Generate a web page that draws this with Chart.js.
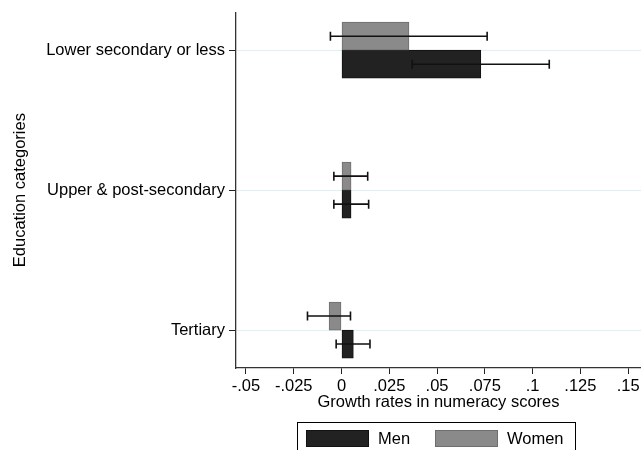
<!DOCTYPE html>
<html>
<head>
<meta charset="utf-8">
<script src="https://cdn.jsdelivr.net/npm/chart.js@4.4.1/dist/chart.umd.min.js"></script>
<style>
  html, body { margin: 0; padding: 0; background: #ffffff; overflow: hidden; }
  #wrap { width: 641px; height: 450px; }
</style>
</head>
<body>
<div id="wrap"><canvas id="c" width="641" height="450"></canvas></div>
<script>
// ---- data ----
const categories = ["Lower secondary or less", "Upper & post-secondary", "Tertiary"];
const seriesNames = ["Men", "Women"];
const menValues   = [0.0729, 0.0050, 0.0062];
const menLow      = [0.0370, -0.0040, -0.0028];
const menHigh     = [0.1087, 0.0142, 0.0149];
const womenValues = [0.0353, 0.0050, -0.0065];
const womenLow    = [-0.0058, -0.0040, -0.0178];
const womenHigh   = [0.0762, 0.0137, 0.0047];
const xTickValues = [-0.05, -0.025, 0, 0.025, 0.05, 0.075, 0.1, 0.125, 0.15];
const xTickLabels = ["-.05", "-.025", "0", ".025", ".05", ".075", ".1", ".125", ".15"];
const xTitle = "Growth rates in numeracy scores";
const yTitle = "Education categories";

// ---- styles ----
const FONT = "'Liberation Sans', Arial, sans-serif";
const FS = 16.5;
const MEN_FILL = "#222222", MEN_BORDER = "#111111";
const WOMEN_FILL = "#8a8a8a", WOMEN_BORDER = "#6e6e6e";

const toPoints = (vals) => vals.map((v, i) => ({ x: v, y: i }));

const errorBars = {
  id: "errorBars",
  afterDatasetsDraw(chart) {
    const ctx = chart.ctx;
    const xs = chart.scales.x;
    ctx.save();
    ctx.strokeStyle = "#111111";
    ctx.lineWidth = 1.6;
    chart.data.datasets.forEach((ds, di) => {
      const meta = chart.getDatasetMeta(di);
      meta.data.forEach((bar, i) => {
        const y = bar.y;
        const x1 = xs.getPixelForValue(ds.errLow[i]);
        const x2 = xs.getPixelForValue(ds.errHigh[i]);
        ctx.beginPath();
        ctx.moveTo(x1, y); ctx.lineTo(x2, y);
        ctx.moveTo(x1, y - 4.5); ctx.lineTo(x1, y + 4.5);
        ctx.moveTo(x2, y - 4.5); ctx.lineTo(x2, y + 4.5);
        ctx.stroke();
      });
    });
    ctx.restore();
  }
};

const boxLegend = {
  id: "boxLegend",
  afterDraw(chart) {
    const ctx = chart.ctx;
    ctx.save();
    ctx.strokeStyle = "#000000";
    ctx.lineWidth = 1;
    ctx.strokeRect(297.5, 422.5, 278, 34);
    // legend order: Men, Women
    const order = [1, 0];
    const swX = [306, 435];
    order.forEach((di, k) => {
      const ds = chart.data.datasets[di];
      ctx.fillStyle = ds.backgroundColor;
      ctx.fillRect(swX[k], 430, 63, 17);
      ctx.strokeStyle = ds.borderColor;
      ctx.strokeRect(swX[k] + 0.5, 430.5, 62, 16);
      ctx.fillStyle = "#000000";
      ctx.font = FS + "px " + FONT;
      ctx.textBaseline = "middle";
      ctx.textAlign = "left";
      ctx.fillText(ds.label, swX[k] + 72, 439);
    });
    ctx.restore();
  }
};

new Chart(document.getElementById("c"), {
  type: "bar",
  data: {
    datasets: [
      {
        label: seriesNames[1],
        data: toPoints(womenValues),
        errLow: womenLow, errHigh: womenHigh,
        backgroundColor: WOMEN_FILL, borderColor: WOMEN_BORDER,
        borderWidth: 1, borderSkipped: false, barThickness: 28
      },
      {
        label: seriesNames[0],
        data: toPoints(menValues),
        errLow: menLow, errHigh: menHigh,
        backgroundColor: MEN_FILL, borderColor: MEN_BORDER,
        borderWidth: 1, borderSkipped: false, barThickness: 28
      }
    ]
  },
  options: {
    indexAxis: "y",
    responsive: false,
    devicePixelRatio: 1,
    animation: false,
    events: [],
    layout: { padding: { top: 12, left: 0, right: 0, bottom: 32 } },
    plugins: { legend: { display: false }, tooltip: { enabled: false } },
    scales: {
      x: {
        type: "linear",
        position: "bottom",
        min: -0.0552,
        max: 0.1567,
        offset: false,
        afterBuildTicks: (s) => { s.ticks = xTickValues.map(v => ({ value: v })); },
        afterFit: (s) => { s.height = 50; s.paddingLeft = 0; s.paddingRight = 0; },
        ticks: {
          autoSkip: false, maxRotation: 0, minRotation: 0, padding: 4,
          color: "#000000",
          font: { family: FONT, size: FS, lineHeight: 1 },
          callback: (v, i) => xTickLabels[i]
        },
        grid: { display: true, offset: false, drawOnChartArea: false, drawTicks: true, tickLength: 6, tickColor: "#222222", tickWidth: 1 },
        border: { display: true, color: "#333333", width: 1.3 },
        title: {
          display: true, text: xTitle, color: "#000000",
          font: { family: FONT, size: FS, lineHeight: 1 },
          padding: { top: 0, bottom: 7.5 }
        }
      },
      y: {
        type: "linear",
        position: "left",
        reverse: true,
        min: -0.271,
        max: 2.271,
        offset: false,
        afterBuildTicks: (s) => { s.ticks = categories.map((c, i) => ({ value: i })); },
        afterFit: (s) => { s.width = 236; },
        ticks: {
          autoSkip: false, padding: 4, color: "#000000",
          font: { family: FONT, size: FS, lineHeight: 1 },
          callback: (v, i) => categories[i]
        },
        grid: { display: true, offset: false, drawOnChartArea: true, drawTicks: true, tickLength: 7, color: "#e4eef1", lineWidth: 1, tickColor: "#222222", tickWidth: 1 },
        border: { display: true, color: "#333333", width: 1.3 },
        title: {
          display: true, text: yTitle, color: "#000000",
          font: { family: FONT, size: FS, lineHeight: 1 },
          padding: { top: 11.75, bottom: 0 }
        }
      }
    }
  },
  plugins: [errorBars, boxLegend]
});
</script>
</body>
</html>
